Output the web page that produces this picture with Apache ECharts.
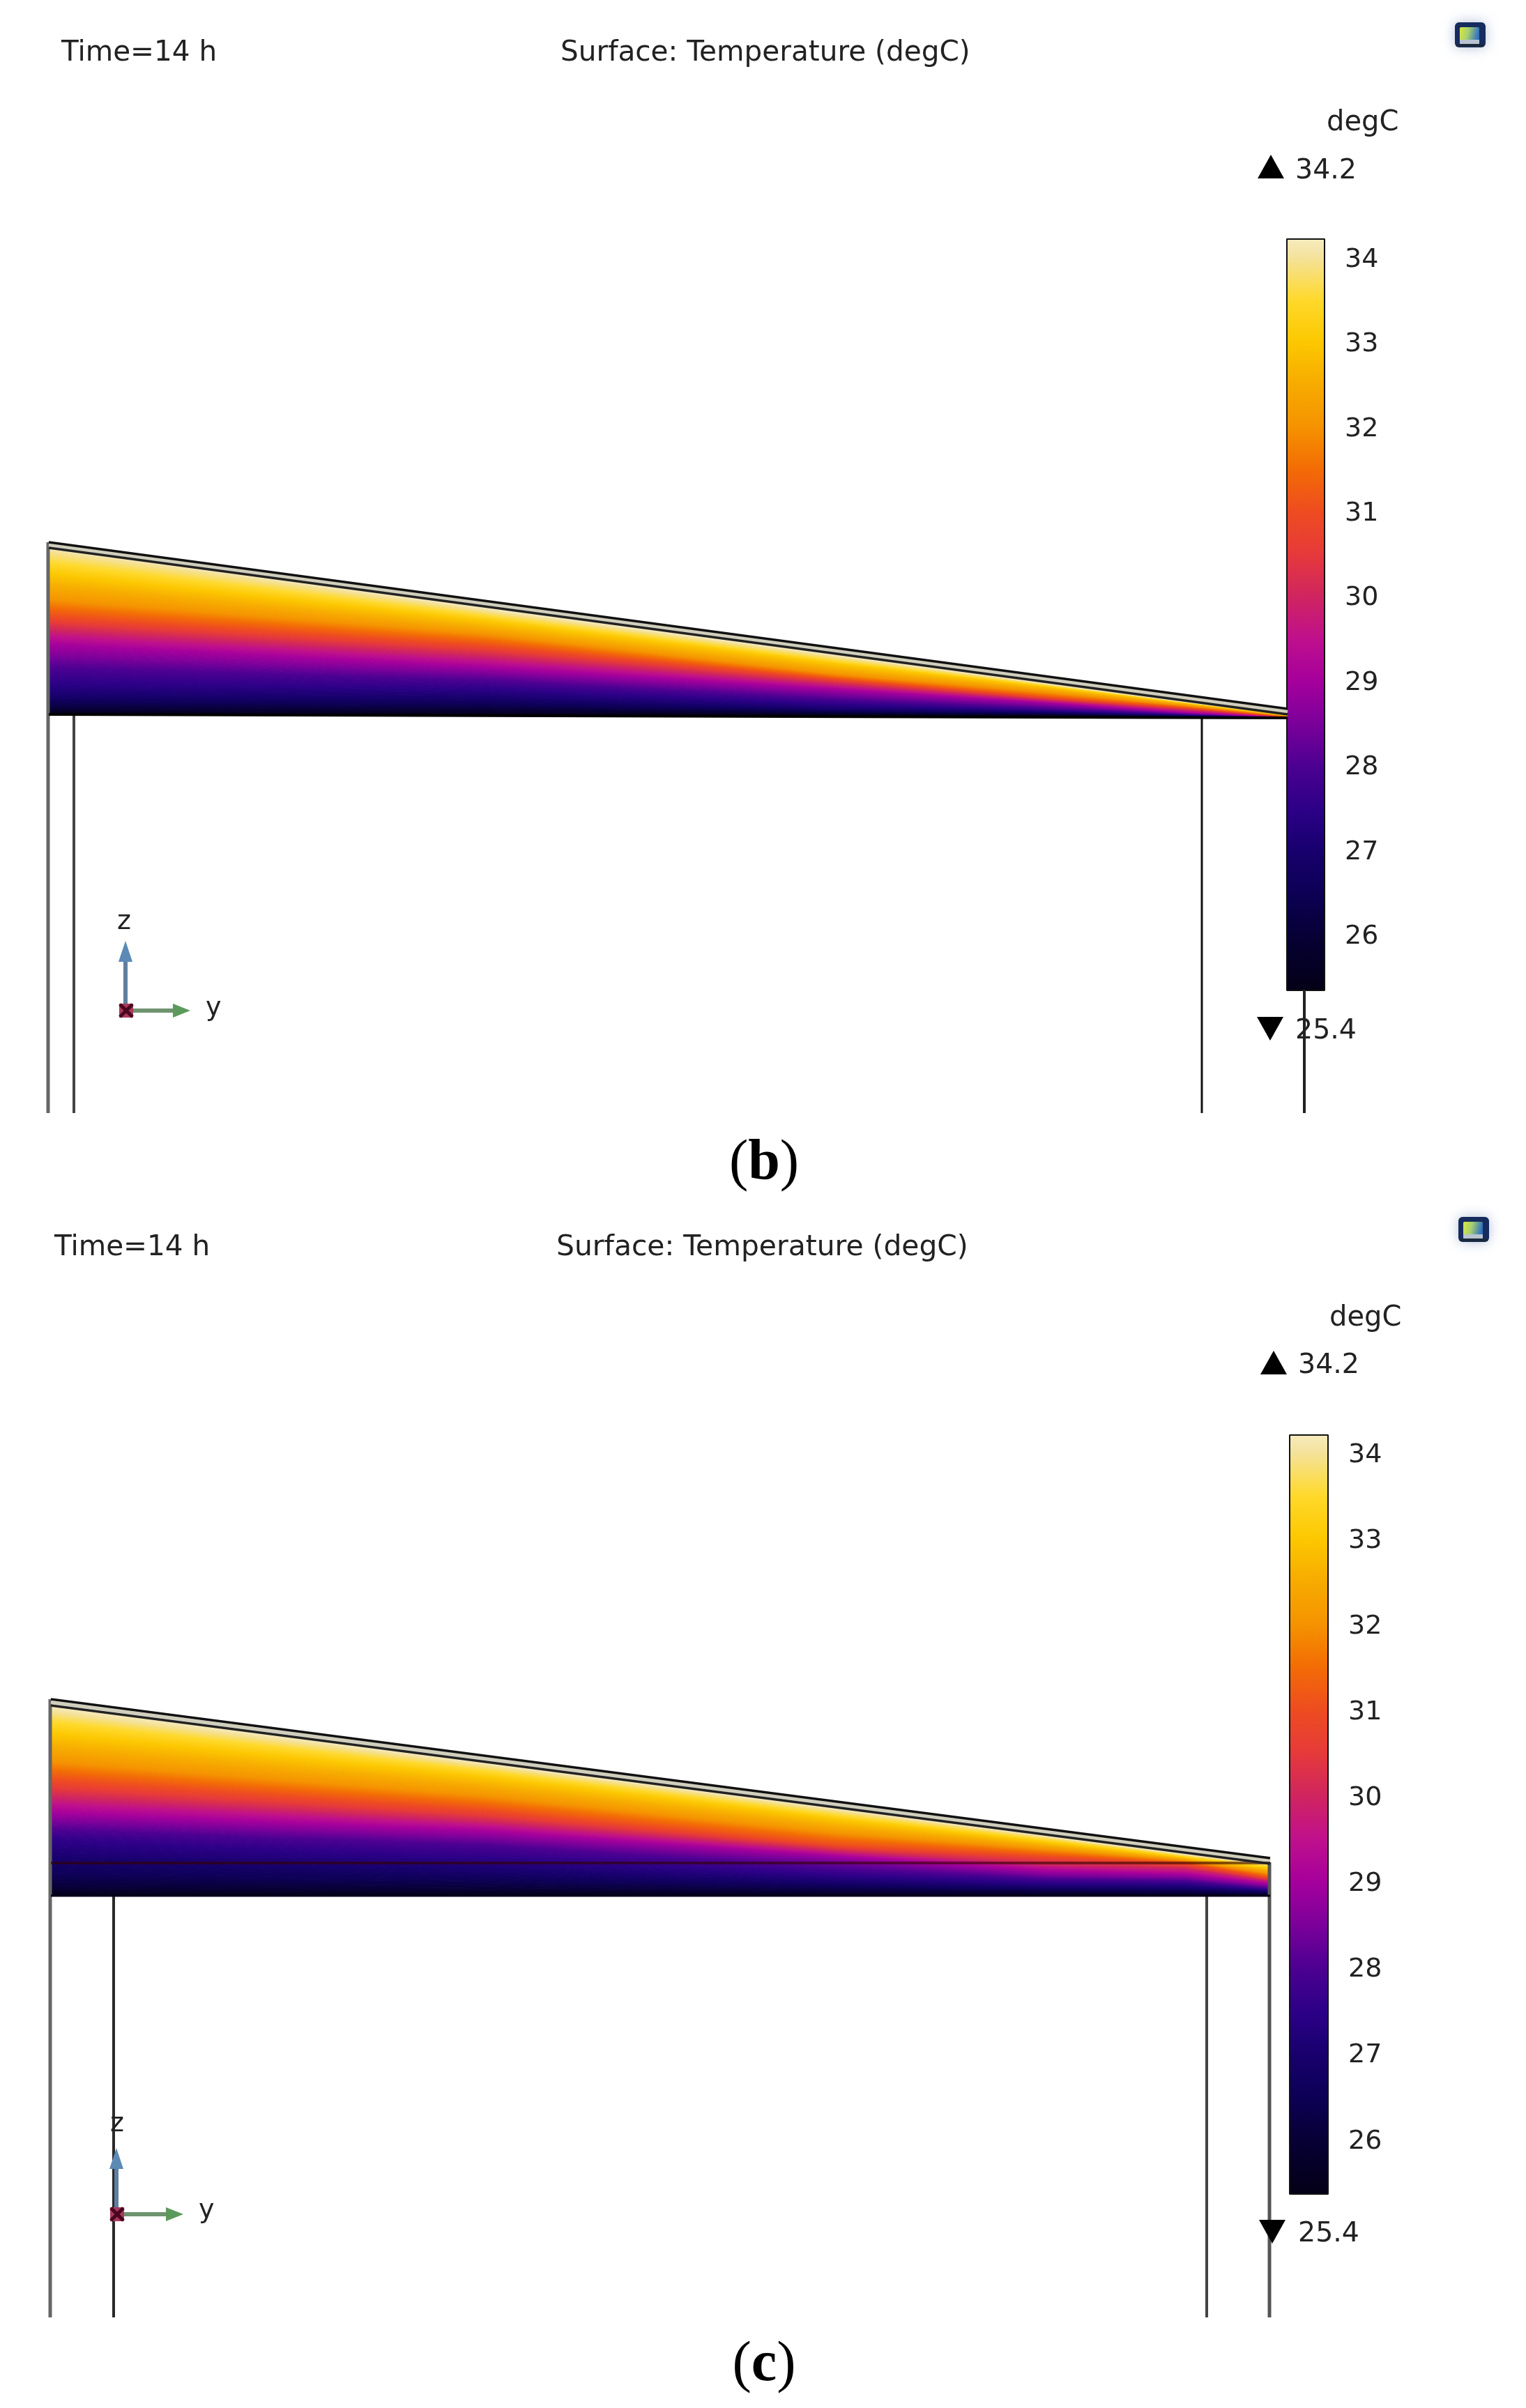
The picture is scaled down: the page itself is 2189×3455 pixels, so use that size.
<!DOCTYPE html>
<html>
<head>
<meta charset="utf-8">
<style>html,body{margin:0;padding:0;background:#fff}#chart{width:2189px;height:3455px}</style>
<script src="https://cdn.jsdelivr.net/npm/echarts@6/dist/echarts.min.js"></script>
</head>
<body>
<div id="chart"></div>
<script>
const levels = [25.4,26,26.5,27,27.5,28,28.5,29,29.5,30,30.5,31,31.5,32,32.5,33,33.5,34,34.2];
const levelColors = ['#030016','#070036','#0d0056','#18006e','#2d0088','#4d0092','#7c009a','#a6009c','#c0108c','#d0255f','#e63a3a','#ee4c20','#f36c05','#f59300','#f7ab00','#fcc800','#ffd92c','#f4e29c','#f6ebbc'];
const legendTicks = [26,27,28,29,30,31,32,33,34];

// View-plane stations along the roof, panel (b)
const stationsB = [70,700,1200,1500,1700,1847];
// Height of each isotherm (one row per level) at each station, panel (b)
const isoB = [
 [1024,1026,1027,1028,1029,1030],
 [1017,1018,1023,1025,1028,1030],
 [1007,1010,1020,1023,1027,1030],
 [997,1000,1017,1021,1026,1030],
 [979,988,1010,1019,1025,1029.5],
 [957,976,1003,1016,1024,1029.2],
 [941,966,996,1012,1023,1029.1],
 [924,957,989,1008,1022,1029],
 [913,949,985,1006,1020,1028.8],
 [903,941,981,1004,1018,1028.6],
 [893,933,977,1002,1016.5,1028.3],
 [884,926,974,1000,1015,1028],
 [872,918,971,997,1013.5,1027.5],
 [860,910,967,993,1012,1027],
 [841,901,960,989,1010,1026.5],
 [823,891,952,985,1008.5,1026],
 [807,884,948,983,1007.5,1025.5],
 [790,876,942,981,1007,1025],
 [786,873,940,980,1007,1025]
];
// Same table for panel (c)
const stationsC = [73,700,1200,1500,1700,1822];
const isoC = [
 [2720,2720,2720,2720,2720,2720],
 [2708,2710,2714,2715,2716,2717],
 [2690,2697,2707,2711,2712,2715],
 [2665,2683,2700,2707,2708,2713],
 [2640,2665,2690,2701,2703,2711],
 [2625,2647,2680,2695,2698,2709],
 [2612,2637,2670,2690,2694,2706],
 [2600,2627,2663,2684,2689,2703],
 [2588,2620,2659,2679,2685,2700],
 [2577,2613,2655,2675,2680,2698],
 [2565,2605,2651,2668,2677,2696],
 [2553,2597,2647,2663,2673,2694],
 [2540,2587,2638,2658,2671,2691],
 [2527,2577,2630,2653,2669,2688],
 [2507,2563,2620,2648,2667,2684],
 [2487,2550,2610,2643,2665,2681],
 [2470,2541,2604,2639,2663,2677],
 [2455,2533,2597,2635,2661,2675],
 [2448,2530,2595,2634,2660,2674]
];

// Structure outlines in view-plane coordinates
const roofOuterB = [[70,778],[1847,1017]];
const roofMidB = [[70,782],[1847,1021]];
const roofInnerB = [[70,786],[1847,1025]];
const baseB = [[70,1025],[1847,1030]];
const postsB = [
 {pts:[[69,778],[69,1597]],color:'#666666',w:5},
 {pts:[[106,1025],[106,1597]],color:'#444444',w:4},
 {pts:[[1724,1030],[1724,1597]],color:'#111111',w:3},
 {pts:[[1871,1420],[1871,1597]],color:'#222222',w:4}
];
const roofOuterC = [[73,2438],[1822,2666]];
const roofMidC = [[73,2442.5],[1822,2670]];
const roofInnerC = [[73,2447],[1822,2674]];
const seamC = [[73,2673],[1822,2673]];
const baseC = [[73,2720],[1822,2720]];
const postsC = [
 {pts:[[72,2438],[72,3325]],color:'#666666',w:5},
 {pts:[[163,2720],[163,3325]],color:'#2a2a2a',w:4},
 {pts:[[1731,2720],[1731,3325]],color:'#444444',w:4},
 {pts:[[1821,2672],[1821,3325]],color:'#555555',w:5}
];

// Axis triads: origin, tip of z arrow, tip of y arrow
const triads = [
 {o:[180,1450],z:[180,1350],y:[273,1450]},
 {o:[167,3177],z:[167,3082],y:[263,3177]}
];
// Min / max markers
const maxMarkers = [[1823,239],[1827,1955]];
const minMarkers = [[1822,1476],[1825,3202]];
// Logo anchors
const logos = [[2109,50],[2114,1764]];

// Texts: x, y, string, font size, alignment
const textsSans = [
 [88,76,'Time=14 h',40.5],[804,76,'Surface: Temperature (degC)',40.6],
 [1903,177,'degC',40],[1858,246,'34.2',39.5],[1858,1480,'25.4',39.5],
 [178,1323,'z',38,'center'],[295,1447,'y',38],
 [78,1790,'Time=14 h',40.5],[798,1790,'Surface: Temperature (degC)',40.8],
 [1907,1892,'degC',40],[1862,1960,'34.2',39.5],[1862,3206,'25.4',39.5],
 [168,3048,'z',38,'center'],[285,3172,'y',38]
];
const captions = [[1096,1670,'b'],[1096,3394,'c']];

function hex(c){return [parseInt(c.substr(1,2),16),parseInt(c.substr(3,2),16),parseInt(c.substr(5,2),16)];}
function colorAt(t){
  let i=0; while(i<levels.length-2 && t>levels[i+1]) i++;
  const f=Math.max(0,Math.min(1,(t-levels[i])/(levels[i+1]-levels[i])));
  const a=hex(levelColors[i]),b=hex(levelColors[i+1]);
  return 'rgb('+a.map((v,k)=>Math.round(v+(b[k]-v)*f)).join(',')+')';
}

// Isotherm-band series: each datum is one pair of neighbouring levels
function fieldSeries(stations,iso){
  return {type:'custom',coordinateSystem:'cartesian2d',xAxisIndex:0,yAxisIndex:0,silent:true,z:1,clip:false,
    data:levels.slice(0,-1).map((t,i)=>[i]),
    renderItem:(params,api)=>{
      const i=api.value(0),subs=8,children=[];
      for(let s=0;s<subs;s++){
        const f0=s/subs,f1=(s+1)/subs;
        const upper=[],lower=[];
        stations.forEach((x,j)=>{
          lower.push(api.coord([x,iso[i][j]+(iso[i+1][j]-iso[i][j])*f0]));
          upper.push(api.coord([x,iso[i][j]+(iso[i+1][j]-iso[i][j])*f1]));
        });
        const col=colorAt(levels[i]+(levels[i+1]-levels[i])*(s+.5)/subs);
        children.push({type:'polygon',shape:{points:upper.concat(lower.reverse())},style:{fill:col,stroke:col,lineWidth:1}});
      }
      return {type:'group',children};
    }};
}
function lineSeries(pts,color,w,z,opacity){
  return {type:'line',xAxisIndex:0,yAxisIndex:0,data:pts,showSymbol:false,silent:true,z:z||3,clip:false,animation:false,
    lineStyle:{color,width:w,opacity:opacity==null?1:opacity}};
}
// Colour legend series: one gradient segment per neighbouring pair of levels
function legendSeries(idx,min){
  return {type:'custom',coordinateSystem:'cartesian2d',xAxisIndex:idx,yAxisIndex:idx,silent:true,z:1,clip:true,
    data:levels.slice(0,-1).map((t,i)=>[i]),
    renderItem:(params,api)=>{
      const i=api.value(0);
      const lo=i===0?min:levels[i];
      const a=api.coord([0,levels[i+1]]),b=api.coord([1,lo]);
      return {type:'rect',shape:{x:a[0],y:a[1],width:b[0]-a[0],height:b[1]-a[1]+1},
        style:{fill:new echarts.graphic.LinearGradient(0,0,0,1,[{offset:0,color:levelColors[i+1]},{offset:1,color:levelColors[i]}])}};
    }};
}
function triadSeries(){
  return {type:'custom',coordinateSystem:'cartesian2d',xAxisIndex:0,yAxisIndex:0,silent:true,z:6,clip:false,
    data:triads.map((t,i)=>[i]),
    renderItem:(params,api)=>{
      const t=triads[api.value(0)];
      const o=api.coord(t.o),zt=api.coord(t.z),yt=api.coord(t.y);
      return {type:'group',children:[
        {type:'line',shape:{x1:o[0],y1:o[1],x2:zt[0],y2:zt[1]+25},style:{stroke:'#5f7f9f',lineWidth:6}},
        {type:'polygon',shape:{points:[[zt[0],zt[1]],[zt[0]-10,zt[1]+30],[zt[0]+10,zt[1]+30]]},style:{fill:'#5b8ab5'}},
        {type:'line',shape:{x1:o[0],y1:o[1],x2:yt[0]-20,y2:yt[1]},style:{stroke:'#6f936f',lineWidth:6}},
        {type:'polygon',shape:{points:[[yt[0],yt[1]],[yt[0]-25,yt[1]-10],[yt[0]-25,yt[1]+10]]},style:{fill:'#5c9a5c'}},
        {type:'rect',shape:{x:o[0]-9,y:o[1]-10,width:20,height:20},style:{fill:'#a83a5a'}},
        {type:'line',shape:{x1:o[0]-8,y1:o[1]-9,x2:o[0]+10,y2:o[1]+9},style:{stroke:'#4a0620',lineWidth:5}},
        {type:'line',shape:{x1:o[0]-8,y1:o[1]+9,x2:o[0]+10,y2:o[1]-9},style:{stroke:'#4a0620',lineWidth:5}}
      ]};
    }};
}
function logoSeries(){
  return {type:'custom',coordinateSystem:'cartesian2d',xAxisIndex:0,yAxisIndex:0,silent:true,z:6,clip:false,
    data:logos,
    renderItem:(params,api)=>{
      const c=api.coord([api.value(0),api.value(1)]);
      return {type:'group',children:[
        {type:'rect',shape:{x:c[0]-22,y:c[1]-18,width:44,height:36,r:6},style:{fill:'#162c5e',shadowBlur:18,shadowColor:'rgba(130,150,190,.6)'}},
        {type:'rect',shape:{x:c[0]-15,y:c[1]-11,width:28,height:20,r:2},
          style:{fill:new echarts.graphic.LinearGradient(0,0,1,.3,[{offset:0,color:'#d8e83c'},{offset:.45,color:'#a8d070'},{offset:1,color:'#2f70c0'}])}},
        {type:'rect',shape:{x:c[0]-15,y:c[1]+7,width:28,height:6},style:{fill:'#b8c4d0'}},
        {type:'rect',shape:{x:c[0]-20,y:c[1]+13,width:40,height:4,r:2},style:{fill:'#1a2a3a'}}
      ]};
    }};
}
function textSeries(){
  return {type:'custom',coordinateSystem:'cartesian2d',xAxisIndex:0,yAxisIndex:0,silent:true,z:8,clip:false,
    data:textsSans.map((t,i)=>[i]),
    renderItem:(params,api)=>{
      const t=textsSans[api.value(0)];
      const p=api.coord([t[0],t[1]]);
      return {type:'text',style:{x:p[0],y:p[1],text:t[2],font:t[3]+'px "DejaVu Sans"',fill:'#222222',align:t[4]||'left',verticalAlign:'middle'}};
    }};
}
function captionSeries(){
  return {type:'custom',coordinateSystem:'cartesian2d',xAxisIndex:0,yAxisIndex:0,silent:true,z:8,clip:false,
    data:captions.map((t,i)=>[i]),
    renderItem:(params,api)=>{
      const t=captions[api.value(0)];
      const p=api.coord([t[0],t[1]]);
      return {type:'text',style:{x:p[0],y:p[1],align:'center',verticalAlign:'middle',text:'{n|(}{b|'+t[2]+'}{n|)}',
        rich:{n:{font:'82px "Liberation Serif"',fill:'#000'},b:{font:'bold 82px "Liberation Serif"',fill:'#000'}}}};
    }};
}
function markerSeries(data,rot){
  return {type:'scatter',xAxisIndex:0,yAxisIndex:0,data,symbol:'triangle',symbolSize:[38,34],symbolRotate:rot,silent:true,z:7,clip:false,
    itemStyle:{color:'#000',opacity:1}};
}

// Legend grids
const legendGrids = [
  {left:1847,top:344,width:52,height:1076,min:25.34,max:34.2},
  {left:1851,top:2060,width:53,height:1087,min:25.36,max:34.19}
];
const grids = [{left:0,top:0,width:2189,height:3455}];
const xAxes = [{type:'value',gridIndex:0,min:0,max:2189,show:false}];
const yAxes = [{type:'value',gridIndex:0,min:0,max:3455,inverse:true,show:false}];
const legendAxisLine = {show:true,onZero:false,lineStyle:{color:'#111',width:4}};
legendGrids.forEach((g,k)=>{
  const idx=grids.length;
  grids.push({left:g.left,top:g.top,width:g.width,height:g.height});
  xAxes.push({type:'value',gridIndex:idx,min:0,max:1,position:'top',axisLine:legendAxisLine,axisTick:{show:false},axisLabel:{show:false},splitLine:{show:false}});
  yAxes.push({type:'value',gridIndex:idx,min:g.min,max:g.max,position:'right',axisLine:legendAxisLine,
    axisTick:{show:true,inside:true,length:11,customValues:legendTicks,lineStyle:{color:'#111',width:3}},
    axisLabel:{show:true,inside:false,margin:30,customValues:legendTicks,color:'#222',
      formatter:v=>'{a|'+v+'}',rich:{a:{fontFamily:'DejaVu Sans',fontSize:38,color:'#222',padding:[9,0,0,0]}}},
    splitLine:{show:false}});
});
// companion axes drawing the other two sides of each legend frame
const companion=[];
legendGrids.forEach((g,k)=>{
  const idx=k+1;
  xAxes.push({type:'value',gridIndex:idx,min:0,max:1,position:'bottom',axisLine:legendAxisLine,axisTick:{show:false},axisLabel:{show:false},splitLine:{show:false}});
  yAxes.push({type:'value',gridIndex:idx,min:g.min,max:g.max,position:'left',axisLine:legendAxisLine,
    axisTick:{show:true,inside:true,length:11,customValues:legendTicks,lineStyle:{color:'#111',width:3}},
    axisLabel:{show:false},splitLine:{show:false}});
  companion.push({type:'line',xAxisIndex:xAxes.length-1,yAxisIndex:yAxes.length-1,data:[],silent:true});
});

const series = [
  fieldSeries(stationsB,isoB), fieldSeries(stationsC,isoC),
  legendSeries(1,legendGrids[0].min), legendSeries(2,legendGrids[1].min),
  lineSeries(roofMidB,'#d0cebc',5,3), lineSeries(roofMidC,'#d0cebc',5,3),
  lineSeries(roofOuterB,'#111',3.5,4), lineSeries(roofInnerB,'#222',3.5,4), lineSeries(baseB,'#000',4,4),
  lineSeries(roofOuterC,'#111',3.5,4), lineSeries(roofInnerC,'#222',3.5,4), lineSeries(baseC,'#05001a',3,4),
  lineSeries(seamC,'#300',4,3,.6)
].concat(postsB.concat(postsC).map(p=>lineSeries(p.pts,p.color,p.w,2)))
 .concat([triadSeries(),logoSeries(),markerSeries(maxMarkers,0),markerSeries(minMarkers,180),textSeries(),captionSeries()])
 .concat(companion);

const chart = echarts.init(document.getElementById('chart'),null,{renderer:'canvas'});
chart.setOption({animation:false,backgroundColor:'#ffffff',grid:grids,xAxis:xAxes,yAxis:yAxes,series});
</script>
</body>
</html>
